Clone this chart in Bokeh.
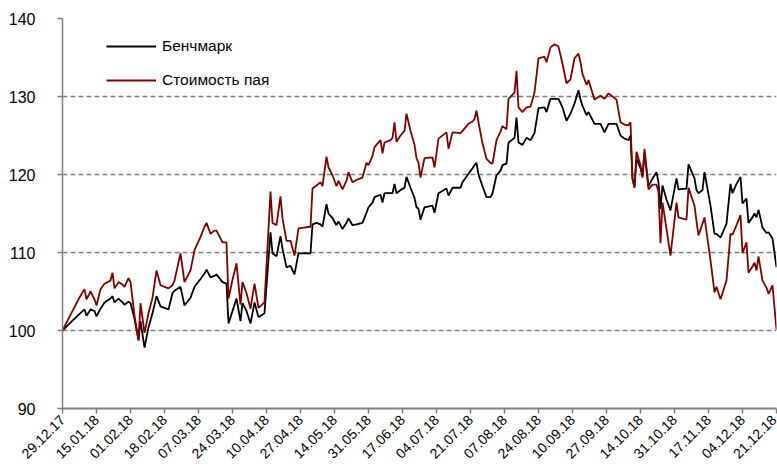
import math
import pandas as pd
from bokeh.plotting import figure
from bokeh.models import FixedTicker, Legend, LegendItem, Range1d
from bokeh.embed import file_html
from bokeh.resources import INLINE

start_date = "2017-12-29"

# day offsets from start_date
days = [0, 4, 8, 11, 12, 14, 16, 17, 19, 21, 24, 25, 26, 28, 30, 31, 33, 34, 36, 38,
        39, 41, 43, 45, 47, 49, 51, 53, 55, 56, 59, 61, 64, 66, 69, 71, 72, 74, 76, 77,
        80, 82, 83, 85, 87, 89, 90, 92, 94, 96, 98, 101, 104, 105, 107, 109, 110, 112, 114, 116,
        118, 124, 125, 127, 129, 130, 132, 133, 135, 137, 138, 140, 142, 143, 145, 147, 150, 152, 153, 155,
        156, 159, 160, 161, 164, 165, 166, 167, 169, 171, 172, 174, 176, 177, 178, 179, 181, 185, 186, 188,
        192, 193, 195, 199, 200, 203, 205, 206, 207, 208, 210, 212, 214, 215, 217, 219, 220, 222, 223, 226,
        227, 228, 230, 232, 234, 236, 238, 241, 242, 244, 246, 248, 250, 252, 254, 256, 258, 259, 260, 262,
        263, 266, 269, 271, 273, 275, 277, 279, 281, 283, 284, 285, 286, 287, 289, 290, 291, 293, 295, 297,
        298, 299, 300, 302, 304, 307, 308, 312, 313, 316, 317, 318, 320, 321, 324, 326, 327, 329, 332, 334,
        335, 337, 339, 340, 342, 343, 345, 346, 347, 348, 350, 352, 353, 355, 357]

benchmark = [100.0, 101.0, 102.0, 102.7, 101.9, 102.7, 102.5, 101.8, 102.8, 103.6, 104.1, 104.4, 103.6, 104.1, 103.6, 103.3, 103.7, 103.5, 101.5, 98.8,
             101.2, 97.8, 100.4, 102.2, 104.4, 103.1, 102.9, 102.7, 104.8, 105.1, 105.6, 103.2, 104.2, 105.6, 106.6, 107.3, 107.8, 106.8, 107.0, 107.2,
             106.2, 106.0, 100.9, 102.5, 104.1, 101.2, 103.5, 102.5, 100.9, 103.6, 101.7, 102.2, 112.6, 109.9, 109.5, 112.1, 110.5, 108.1, 108.3, 107.2,
             109.9, 109.9, 113.6, 113.8, 113.6, 113.3, 116.2, 115.0, 114.4, 113.5, 114.0, 113.0, 113.8, 114.4, 113.5, 113.6, 113.8, 115.1, 115.8, 116.4,
             117.1, 117.4, 116.4, 117.6, 117.6, 117.6, 118.8, 117.6, 118.0, 118.3, 119.7, 118.3, 117.0, 115.8, 115.6, 114.2, 115.8, 116.0, 115.1, 117.6,
             118.2, 117.3, 118.3, 118.3, 119.0, 120.1, 120.8, 121.2, 121.5, 120.0, 118.5, 117.1, 117.1, 117.6, 119.9, 120.5, 121.2, 121.4, 124.1, 124.7,
             127.3, 124.1, 123.8, 124.7, 124.4, 125.3, 128.5, 128.6, 128.0, 129.7, 129.7, 129.7, 128.6, 126.9, 127.8, 129.1, 130.8, 129.6, 128.8, 127.6,
             128.0, 126.5, 126.5, 125.4, 126.5, 126.5, 126.5, 125.0, 124.6, 124.4, 125.0, 119.4, 118.4, 122.0, 120.8, 119.8, 122.8, 118.5, 119.5, 120.3,
             119.0, 115.6, 118.6, 116.8, 115.4, 119.5, 118.1, 118.2, 121.3, 119.5, 118.0, 117.6, 118.0, 120.3, 116.0, 112.4, 112.4, 111.9, 113.7, 118.8,
             117.6, 118.8, 119.7, 116.3, 116.9, 113.8, 114.5, 115.0, 114.5, 115.5, 113.2, 112.5, 112.6, 111.8, 108.1]

fund = [100.0, 102.0, 104.0, 105.3, 104.0, 105.0, 104.0, 103.2, 105.3, 106.0, 106.4, 107.4, 105.4, 106.2, 105.9, 105.6, 106.7, 106.2, 101.9, 98.7,
        103.5, 99.7, 102.2, 104.2, 107.7, 105.8, 105.6, 105.4, 105.8, 106.4, 109.9, 106.2, 107.7, 110.3, 112.0, 113.3, 113.8, 112.4, 112.8, 112.8,
        111.3, 111.3, 104.1, 106.5, 108.6, 103.3, 106.2, 104.8, 102.8, 106.0, 102.9, 103.6, 117.8, 113.8, 113.5, 117.2, 114.4, 111.5, 111.5, 109.6,
        113.1, 113.3, 118.2, 118.6, 119.0, 118.5, 122.3, 120.9, 119.9, 118.5, 119.2, 118.1, 119.2, 120.3, 119.0, 119.3, 119.6, 121.5, 121.2, 122.4,
        123.5, 124.4, 122.7, 124.1, 124.4, 124.7, 126.7, 124.2, 125.0, 125.6, 127.8, 125.6, 123.8, 122.1, 121.5, 119.6, 122.1, 122.2, 120.9, 124.6,
        125.4, 123.3, 125.4, 125.3, 125.6, 126.5, 126.8, 127.1, 128.2, 126.7, 124.0, 122.0, 121.5, 121.4, 124.4, 125.5, 126.2, 125.8, 129.7, 130.5,
        133.3, 128.6, 128.0, 128.6, 128.7, 130.5, 134.9, 135.1, 134.4, 136.3, 136.7, 136.4, 134.2, 131.7, 132.2, 134.9, 135.5, 134.4, 132.9, 131.5,
        132.1, 129.6, 130.1, 129.7, 130.4, 130.0, 129.6, 126.7, 126.4, 126.3, 126.7, 119.5, 118.3, 122.9, 121.2, 119.6, 123.3, 118.1, 118.7, 118.7,
        117.8, 111.2, 116.4, 113.0, 109.6, 116.4, 114.5, 114.2, 118.3, 116.0, 114.0, 112.2, 113.7, 114.5, 109.0, 104.9, 105.6, 104.0, 106.4, 112.4,
        112.3, 113.5, 114.8, 109.9, 111.3, 107.4, 108.2, 108.7, 107.7, 109.5, 106.4, 105.5, 104.7, 105.8, 100.1]

tick_labels = ["29.12.17", "15.01.18", "01.02.18", "18.02.18", "07.03.18", "24.03.18",
               "10.04.18", "27.04.18", "14.05.18", "31.05.18", "17.06.18", "04.07.18",
               "21.07.18", "07.08.18", "24.08.18", "10.09.18", "27.09.18", "14.10.18",
               "31.10.18", "17.11.18", "04.12.18", "21.12.18"]
y_ticks = [90, 100, 110, 120, 130, 140]
series_names = ["Бенчмарк", "Стоимость пая"]

FONT = "Liberation Sans"

dates = pd.Timestamp(start_date) + pd.to_timedelta(days, unit="D")
tick_dates = pd.to_datetime(tick_labels, format="%d.%m.%y")
tick_ms = [int(t.value // 10**6) for t in tick_dates]

p = figure(width=777, height=466, x_axis_type="datetime", output_backend="svg",
           toolbar_location=None, min_border_left=62, min_border_right=1,
           min_border_top=18, min_border_bottom=58)
p.x_range = Range1d(tick_dates[0], tick_dates[-1])
p.y_range = Range1d(90, 140)
p.outline_line_color = None
p.background_fill_color = "white"
p.border_fill_color = "white"

l1 = p.line(dates, benchmark, line_color="black", line_width=1.8)
l2 = p.line(dates, fund, line_color="#800000", line_width=1.8)

# axes
p.xaxis.ticker = FixedTicker(ticks=tick_ms)
p.xaxis.major_label_overrides = {ms: lab for ms, lab in zip(tick_ms, tick_labels)}
p.xaxis.major_label_orientation = math.pi / 4
p.xaxis.minor_tick_line_color = None
p.xaxis.major_tick_in = 0
p.xaxis.major_tick_out = 5
p.xaxis.axis_line_color = "#808080"
p.xaxis.axis_line_width = 2
p.xaxis.major_tick_line_color = "#808080"
p.xaxis.major_tick_line_width = 1.5
p.xaxis.major_label_text_font = FONT
p.xaxis.major_label_text_font_size = "14px"
p.xaxis.major_label_text_color = "black"
p.xaxis.major_label_standoff = 4

p.yaxis.ticker = FixedTicker(ticks=y_ticks)
p.yaxis.minor_tick_line_color = None
p.yaxis.major_tick_in = 0
p.yaxis.major_tick_out = 5
p.yaxis.axis_line_color = "#808080"
p.yaxis.axis_line_width = 1.5
p.yaxis.major_tick_line_color = "#808080"
p.yaxis.major_tick_line_width = 1.5
p.yaxis.major_label_text_font = FONT
p.yaxis.major_label_text_font_size = "16px"
p.yaxis.major_label_text_color = "black"
p.yaxis.major_label_standoff = 22

p.xgrid.grid_line_color = None
p.ygrid.ticker = FixedTicker(ticks=[t for t in y_ticks if t > 90])
p.ygrid.grid_line_color = "#808080"
p.ygrid.grid_line_width = 1.5
p.ygrid.grid_line_dash = "5 3"

legend = Legend(items=[LegendItem(label=series_names[0], renderers=[l1]),
                       LegendItem(label=series_names[1], renderers=[l2])],
                location=(44, 318), orientation="vertical")
legend.border_line_color = None
legend.background_fill_alpha = 0
legend.padding = 0
legend.margin = 0
legend.spacing = 14
legend.glyph_width = 50
legend.glyph_height = 20
legend.label_height = 20
legend.label_standoff = 6
legend.label_text_font = FONT
legend.label_text_font_size = "15.5px"
legend.label_text_color = "black"
p.add_layout(legend)

open("out.html", "w").write(file_html(p, INLINE))
